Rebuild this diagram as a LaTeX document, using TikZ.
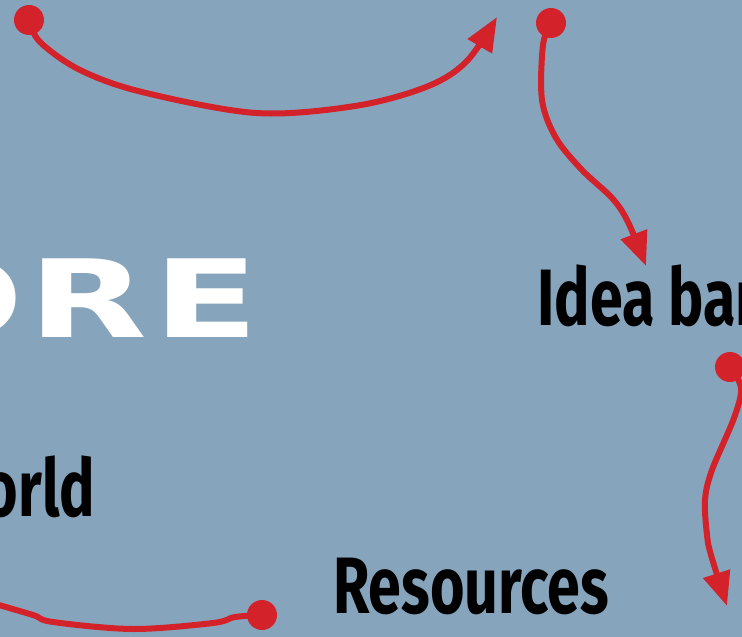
\documentclass[tikz,border=0pt]{standalone}
\usepackage{fontspec}
\newfontfamily\handfont{Fira Sans}
\newfontfamily\logofont{DejaVu Sans}[LetterSpace=3.5]
\usetikzlibrary{arrows.meta}
\definecolor{bg}{HTML}{86A5BD}
\definecolor{pen}{HTML}{D4222B}
\begin{document}
\begin{tikzpicture}[x=1pt,y=-1pt,
  dot/.style={circle,fill=pen,inner sep=0pt,minimum size=30pt},
  link/.style={draw=pen,line width=6pt,line cap=round,line join=round},
  head/.style={-{Triangle[length=34pt,width=27pt]}},
  hand/.style={font=\handfont\bfseries\fontsize{80}{80}\selectfont,text=black,inner sep=0pt,xscale=0.74},
  logo/.style={font=\logofont\bfseries\fontsize{108}{108}\selectfont,text=white,inner sep=0pt,xscale=1.43}]
\useasboundingbox (0,0) rectangle (742,637);
\fill[bg] (0,0) rectangle (742,637);
\clip (0,0) rectangle (742,637);

% texts
\node[logo,anchor=base east] (ore) at (259,337) {ORE};
\node[hand,anchor=base east] (world) at (95,516) {orld};
\node[hand,anchor=base west] (idea) at (537,325) {Idea ban};
\node[hand,anchor=base west] (res) at (333,613) {Resources};

% dots and free ends
\node[dot] (d1) at (29,20) {};
\node[dot] (d2) at (551,23) {};
\node[dot] (d3) at (262,615) {};
\node[dot] (d4) at (730,367) {};
\coordinate (t1) at (497,17);
\coordinate (t2) at (646,266);
\coordinate (c3) at (-8,603);
\coordinate (t4) at (727,606);

% connectors
\draw[link,head] plot[smooth,tension=0.55] coordinates
  {(d1.center) (40,42) (80,70) (142,92) (256,113) (355,106) (426,87) (466,62) (t1)};
\draw[link,head] plot[smooth,tension=0.55] coordinates
  {(d2.center) (543,45) (542,100) (556,138) (582,170) (612,198) (628,222) (t2)};
\draw[link] plot[smooth,tension=0.55] coordinates
  {(d3.center) (235,617) (213,623) (133,629) (53,622) (33,615) (c3)};
\draw[link,head] plot[smooth,tension=0.55] coordinates
  {(d4.center) (741,388) (734,418) (712,470) (705,500) (707,535) (711,555) (t4)};
\end{tikzpicture}
\end{document}
